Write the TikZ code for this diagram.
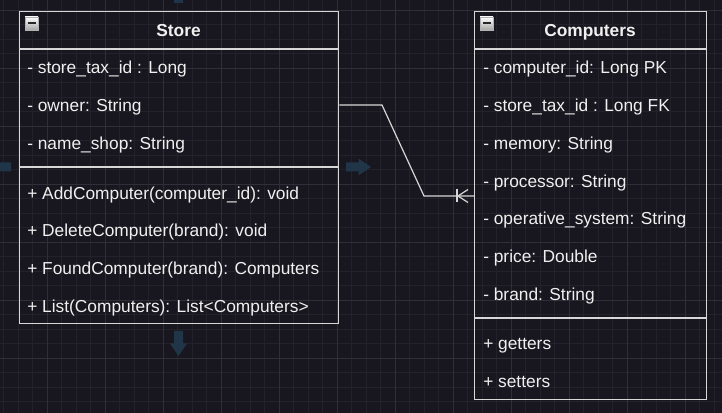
\documentclass[tikz,border=0pt]{standalone}
\usepackage{fontspec}
\setmainfont{Liberation Sans}
\usetikzlibrary{positioning}

\definecolor{canvas}{RGB}{24,22,30}
\definecolor{minorline}{RGB}{35,33,41}
\definecolor{majorline}{RGB}{48,46,54}
\definecolor{boxline}{RGB}{215,215,215}
\definecolor{textcol}{RGB}{240,240,240}
\definecolor{hintcol}{RGB}{32,54,72}

\begin{document}
\begin{tikzpicture}[
		x=0.75pt, y=-0.75pt,
		classbox/.style={
			draw=boxline,
			line width=1pt,
			anchor=north west,
			inner sep=0pt,
		},
		member/.style={anchor=base west, inner sep=0pt, text=textcol},
		classname/.style={anchor=base, inner sep=0pt, text=textcol, font=\fontsize{13}{15}\selectfont\bfseries},
		divider/.style={draw=boxline, line width=1pt},
		relation/.style={draw=boxline, line width=0.9pt},
		hint/.style={fill=hintcol},
		font=\fontsize{13}{15}\selectfont
		]
		% Draw the canvas and its grid
		\fill[canvas] (0,0) rectangle (722,413);
		\useasboundingbox (0,0) rectangle (722,413);
		\foreach \gx in {3.5,18,...,722} \draw[minorline, line width=0.6pt] (\gx,0) -- (\gx,413);
		\foreach \gy in {10,24.5,...,413} \draw[minorline, line width=0.6pt] (0,\gy) -- (722,\gy);
		\foreach \gx in {47,105,...,722} \draw[majorline, line width=0.6pt] (\gx,0) -- (\gx,413);
		\foreach \gy in {10,68,...,413} \draw[majorline, line width=0.6pt] (0,\gy) -- (722,\gy);
		% Draw the hover arrows
		\foreach \pos/\ang in {{(358.5,167)}/0,{(178.5,343.5)}/-90,{(-1.5,167)}/180,{(178.5,-9.5)}/90} {
			\fill[hint, shift={\pos}, rotate=\ang] (-12.5,-4.5) -- (0,-4.5) -- (0,-8.5) -- (12.5,0) -- (0,8.5) -- (0,4.5) -- (-12.5,4.5) -- cycle;
		}
		% Draw the class boxes
		\node [classbox, minimum width=239.25pt, minimum height=234pt] (store) at (19,11) {};
		\node [classbox, minimum width=174pt, minimum height=291pt] (computers) at (474,11) {};
		\node [classname] (storename) at (178.5,37) {Store};
		\node [classname] (computersname) at (590,37) {Computers};
		\draw[divider] (store.west |- 0,49) -- (store.east |- 0,49);
		\draw[divider] (store.west |- 0,167) -- (store.east |- 0,167);
		\draw[divider] (computers.west |- 0,49) -- (computers.east |- 0,49);
		\draw[divider] (computers.west |- 0,318) -- (computers.east |- 0,318);
		% Draw the collapse icons
		\foreach \cls in {store,computers} {
			\shade[top color=white, bottom color=gray!70, draw=gray!60, line width=0.5pt] ([shift={(6,6)}]\cls.north west) rectangle ([shift={(19,19)}]\cls.north west);
			\fill[black!85] ([shift={(8.5,11.5)}]\cls.north west) rectangle ([shift={(16.5,13.5)}]\cls.north west);
		}
		% Draw the members of Store
		\foreach \i/\txt in {0/{- store\_tax\_id : Long},1/{- owner: String},2/{- name\_shop: String}} {
			\node [member] (storeattr\i) at (27,{74+37.7*\i}) {\txt};
		}
		\foreach \i/\txt in {0/{+ AddComputer(computer\_id): void},1/{+ DeleteComputer(brand): void},2/{+ FoundComputer(brand): Computers},3/{+ List(Computers): List<Computers>}} {
			\node [member] (storeop\i) at (27,{199.3+37.7*\i}) {\txt};
		}
		% Draw the members of Computers
		\foreach \i/\txt in {0/{- computer\_id: Long PK},1/{- store\_tax\_id : Long FK},2/{- memory: String},3/{- processor: String},4/{- operative\_system: String},5/{- price: Double},6/{- brand: String}} {
			\node [member] (compattr\i) at (483,{74+37.7*\i}) {\txt};
		}
		\foreach \i/\txt in {0/{+ getters},1/{+ setters}} {
			\node [member] (compop\i) at (483,{349.7+37.7*\i}) {\txt};
		}
		% Draw the relation with its crow's foot
		\coordinate (relstart) at (store.east |- 0,105);
		\coordinate (relend) at (computers.west |- 0,196);
		\draw[relation] (relstart) -- (382,105) -- (424,196) -- (relend);
		\draw[relation] ([shift={(-17,-6.5)}]relend) -- ([shift={(-17,6.5)}]relend);
		\draw[relation] ([shift={(-6,-6.5)}]relend) -- ([shift={(-16,0)}]relend) -- ([shift={(-6,6.5)}]relend);
	\end{tikzpicture}
\end{document}
